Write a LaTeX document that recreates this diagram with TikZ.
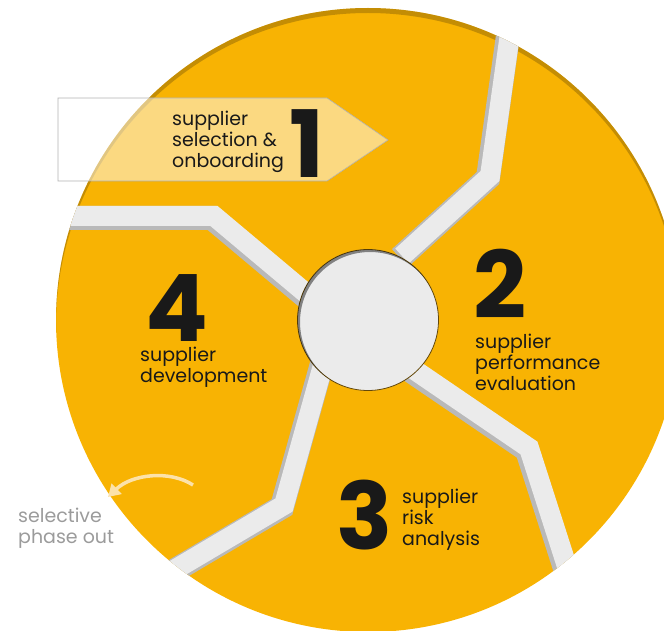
\documentclass[tikz,border=0pt]{standalone}
\usepackage{fontspec}
\setmainfont{Poppins}
\usetikzlibrary{arrows.meta}

\definecolor{wheelyellow}{RGB}{248,179,3}
\definecolor{bandgray}{RGB}{235,235,235}
\definecolor{bandshade}{RGB}{185,185,185}
\definecolor{rimbrown}{RGB}{100,72,8}
\definecolor{arrowcream}{RGB}{252,226,170}
\definecolor{phasegray}{RGB}{155,155,155}

\tikzset{
	band/.style={line width=24pt, bandshade, miter limit=20},
	bandtop/.style={line width=20pt, bandgray, miter limit=20, shift={(2,-2)}},
	phasenum/.style={font=\fontsize{93}{93}\selectfont\bfseries, inner sep=0pt, text depth=0pt, anchor=base west, text=black!90},
	phasetxt/.style={font=\fontsize{19}{21}\selectfont, align=left, inner sep=0pt, anchor=base west, text=black!90},
}

\begin{document}
\begin{tikzpicture}[x=1pt,y=-1pt]
	\useasboundingbox (0,0) rectangle (664,631);
	
	\coordinate (c) at (368,320);
	\fill[wheelyellow] (c) circle [radius=312];
	
	% bands between the four sectors
	\begin{scope}
		\clip (c) circle [radius=312];
		\draw[rimbrown, opacity=0.35, line width=10] ([yshift=-5pt]c) circle [radius=317];
		\draw[band] (400,258)--(488,178)--(513,0);
		\draw[bandtop] (400,258)--(488,178)--(513,0);
		\draw[band] (395,360)--(527,450)--(580,615);
		\draw[bandtop] (395,360)--(527,450)--(580,615);
		\draw[band] (330,335)--(282,507)--(140,591);
		\draw[bandtop] (330,335)--(282,507)--(140,591);
		\draw[band] (312,302)--(212,218)--(30,218);
		\draw[bandtop] (312,302)--(212,218)--(30,218);
	\end{scope}
	
	\node[circle, minimum size=141pt, inner sep=0pt, fill=bandgray, draw=rimbrown, line width=0.8pt] (hub) at (c) {};
	\begin{scope}
		\clip (c) circle [radius=70.5];
		\draw[black, opacity=0.45, line width=4] ([shift={(2,2)}]c) circle [radius=72];
	\end{scope}
	
	% phase 1 banner
	\draw[fill=white, fill opacity=0.5, draw=black!30, line width=0.6pt] (58,98)--(327,98)--(388,140)--(327,181)--(58,181)--cycle;
	\node[phasetxt] (onboard) at (172,168) {supplier\\selection \&\\onboarding};
	\node[phasenum] (one) at (289,178) {1};
	
	\node[phasenum] (two) at (473,318) {2};
	\node[phasetxt] (perform) at (475,390) {supplier\\performance\\evaluation};
	
	\node[phasenum] (three) at (336,549) {3};
	\node[phasetxt] (risk) at (402,545) {supplier\\risk\\analysis};
	
	\node[phasenum] (four) at (145,341) {4};
	\node[phasetxt] (develop) at (140,382) {supplier\\development};
	
	% selective phase out
	\coordinate (fadestart) at (193,485);
	\coordinate (fadeend) at (108,497);
	\draw[arrowcream, line width=3.5pt, -{Triangle[length=12pt,width=14pt]}] (fadestart) .. controls (170,470) and (132,474) .. (fadeend);
	\node[phasetxt, text=phasegray] (phaseout) at (18,543) {selective\\phase out};
	
\end{tikzpicture}
\end{document}
